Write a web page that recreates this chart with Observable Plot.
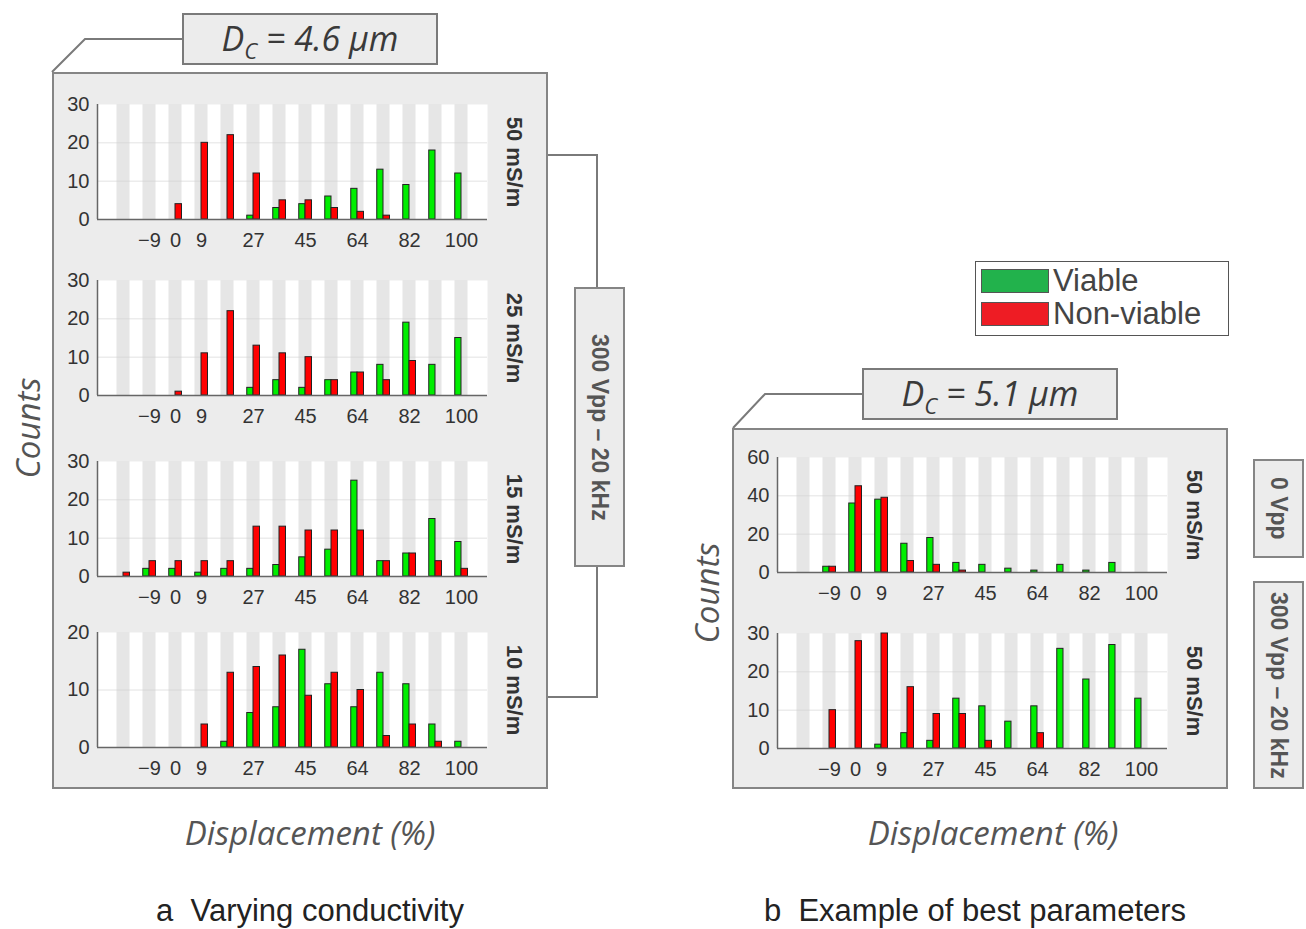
<!DOCTYPE html>
<html>
<head>
<meta charset="utf-8">
<script src="https://cdn.jsdelivr.net/npm/d3@7"></script>
<script src="https://cdn.jsdelivr.net/npm/@observablehq/plot@0.6"></script>
<style>
  body { margin: 0; background: #fff; }
  #root { position: relative; width: 1306px; height: 929px; overflow: hidden; font-family: "Liberation Sans", Arial, sans-serif; }
  .abs { position: absolute; box-sizing: border-box; }
  .panel { background: #ececec; border: 2px solid #858585; }
  .title { background: #ececec; border: 2px solid #7a7a7a; font-family: "Open Sans", sans-serif; font-style: italic; font-size: 34px; color: #3a3a3a; text-align: center; line-height: 46px; }
  .title sub { font-size: 22px; vertical-align: -8px; line-height: 0; }
  .side { background: #ececec; border: 2px solid #858585; writing-mode: vertical-rl; text-align: center; font-weight: bold; font-size: 23px; color: #555; display: flex; align-items: center; justify-content: center; }
  .ylab { font-family: "Open Sans", sans-serif; font-style: italic; font-size: 33px; color: #555; white-space: nowrap; transform: translate(-50%, -50%) rotate(-90deg); }
  .xlab { font-family: "Open Sans", sans-serif; font-style: italic; font-size: 33px; color: #555; white-space: nowrap; transform: translate(-50%, -50%); }
  .cap { font-size: 31px; color: #222; white-space: pre; transform: translate(-50%, -50%); }
  .leg { font-size: 31px; color: #444; line-height: 32px; }
  .plotbox { position: absolute; }
</style>
</head>
<body>
<div id="root"></div>
<script>
// ---- data ----
const bins = [-18, -9, 0, 9, 18, 27, 36, 45, 55, 64, 73, 82, 91, 100];
const tickBins = [-9, 0, 9, 27, 45, 64, 82, 100];
const tickText = ["\u22129", "0", "9", "27", "45", "64", "82", "100"];

const a50Viable    = [0, 0, 0, 0, 0, 1, 3, 4, 6, 8, 13, 9, 18, 12];
const a50NonViable = [0, 0, 4, 20, 22, 12, 5, 5, 3, 2, 1, 0, 0, 0];
const a25Viable    = [0, 0, 0, 0, 0, 2, 4, 2, 4, 6, 8, 19, 8, 15];
const a25NonViable = [0, 0, 1, 11, 22, 13, 11, 10, 4, 6, 4, 9, 0, 0];
const a15Viable    = [0, 2, 2, 1, 2, 2, 3, 5, 7, 25, 4, 6, 15, 9];
const a15NonViable = [1, 4, 4, 4, 4, 13, 13, 12, 12, 12, 4, 6, 4, 2];
const a10Viable    = [0, 0, 0, 0, 1, 6, 7, 17, 11, 7, 13, 11, 4, 1];
const a10NonViable = [0, 0, 0, 4, 13, 14, 16, 9, 13, 10, 2, 4, 1, 0];
const b0Viable     = [0, 3, 36, 38, 15, 18, 5, 4, 2, 1, 4, 1, 5, 0];
const b0NonViable  = [0, 3, 45, 39, 6, 4, 1, 0, 0, 0, 0, 0, 0, 0];
const b300Viable   = [0, 0, 0, 1, 4, 2, 13, 11, 7, 11, 26, 18, 27, 13];
const b300NonViable= [0, 10, 28, 30, 16, 9, 9, 2, 0, 4, 0, 0, 0, 0];

const panelLabels = ["50 mS/m", "25 mS/m", "15 mS/m", "10 mS/m", "50 mS/m", "50 mS/m"];
const yTicksA = [0, 10, 20, 30];
const yTicksA10 = [0, 10, 20];
const yTicksB0 = [0, 20, 40, 60];
const yTicksB300 = [0, 10, 20, 30];

const seriesNames = ["Viable", "Non-viable"];
const seriesColors = ["#00ee00", "#ff0000"];

// ---- layout helpers ----
const root = document.getElementById("root");
function el(cls, style, html) {
  const d = document.createElement("div");
  d.className = "abs " + cls;
  Object.assign(d.style, style);
  if (html != null) d.innerHTML = html;
  root.appendChild(d);
  return d;
}

// connectors (decoration)
const ns = "http://www.w3.org/2000/svg";
const deco = document.createElementNS(ns, "svg");
deco.setAttribute("width", 1306); deco.setAttribute("height", 929);
deco.style.position = "absolute"; deco.style.left = "0"; deco.style.top = "0";
deco.innerHTML = `
  <path d="M182,39 H85 L52,72" fill="none" stroke="#7a7a7a" stroke-width="2"/>
  <path d="M862,394 H765 L733,428" fill="none" stroke="#7a7a7a" stroke-width="2"/>
  <path d="M547,155 H597 V288" fill="none" stroke="#7a7a7a" stroke-width="2"/>
  <path d="M597,566 V697 H547" fill="none" stroke="#7a7a7a" stroke-width="2"/>`;
root.appendChild(deco);

// panel boxes
el("panel", {left: "52px", top: "72px", width: "496px", height: "717px"});
el("panel", {left: "732px", top: "428px", width: "496px", height: "361px"});

// title boxes
el("title", {left: "182px", top: "13px", width: "256px", height: "52px"}, "D<sub>C</sub> = 4.6 µm");
el("title", {left: "862px", top: "368px", width: "256px", height: "52px"}, "D<sub>C</sub> = 5.1 µm");

// side boxes
el("side", {left: "574px", top: "287px", width: "51px", height: "280px"}, "300 Vpp – 20 kHz");
el("side", {left: "1253px", top: "459px", width: "51px", height: "99px"}, "0 Vpp");
el("side", {left: "1253px", top: "581px", width: "51px", height: "208px"}, "300 Vpp – 20 kHz");

// legend
el("", {left: "975px", top: "261px", width: "254px", height: "75px", border: "1.5px solid #555", background: "#fff"});
el("", {left: "981px", top: "269px", width: "68px", height: "24px", background: "#22b24c", border: "1.5px solid #555"});
el("", {left: "981px", top: "302px", width: "68px", height: "24px", background: "#ee1c24", border: "1.5px solid #555"});
el("leg", {left: "1053px", top: "265px"}, seriesNames[0]);
el("leg", {left: "1053px", top: "298px"}, seriesNames[1]);

// axis titles & captions
el("ylab", {left: "27px", top: "428px"}, "Counts");
el("ylab", {left: "706px", top: "593px"}, "Counts");
el("xlab", {left: "310px", top: "832px"}, "Displacement (%)");
el("xlab", {left: "993px", top: "832px"}, "Displacement (%)");
el("cap", {left: "310px", top: "911px"}, "a  Varying conductivity");
el("cap", {left: "975px", top: "911px"}, "b  Example of best parameters");

// ---- plots ----
const idx = bins.map((b, i) => i);
function panel(viable, nonViable, yTicks, label, left, top) {
  const ymax = yTicks[yTicks.length - 1];
  const rows = [];
  idx.forEach(i => {
    if (viable[i] > 0) rows.push({i, v: viable[i], s: seriesNames[0]});
    if (nonViable[i] > 0) rows.push({i, v: nonViable[i], s: seriesNames[1]});
  });
  const tickIdx = tickBins.map(b => bins.indexOf(b));
  const plot = Plot.plot({
    width: 496, height: 163,
    marginLeft: 45, marginRight: 61, marginTop: 12, marginBottom: 36,
    style: {background: "transparent", fontFamily: "'Liberation Sans', Arial, sans-serif", fontSize: "20px", color: "#333", overflow: "visible"},
    x: {domain: [-1, 14], axis: null},
    y: {domain: [0, ymax], axis: null},
    color: {domain: seriesNames, range: seriesColors},
    marks: [
      Plot.frame({fill: "white", stroke: null}),
      Plot.rect(idx, {x1: i => i - 0.25, x2: i => i + 0.25, y1: () => 0, y2: () => ymax, fill: "#e6e6e6"}),
      Plot.gridY(yTicks.slice(1, -1), {stroke: "#d0d0d0", strokeOpacity: 0.6}),
      Plot.rectY(rows, {
        x1: d => d.s === seriesNames[0] ? d.i - 0.24 : d.i,
        x2: d => d.s === seriesNames[0] ? d.i : d.i + 0.25,
        y: "v", fill: "s", stroke: "#222", strokeWidth: 1
      }),
      Plot.ruleY([0], {stroke: "#666", strokeWidth: 1.5}),
      Plot.ruleX([-1], {stroke: "#666", strokeWidth: 1.5}),
      Plot.axisX(tickIdx, {tickSize: 0, tickPadding: 13, tickFormat: i => tickText[tickIdx.indexOf(i)], fontSize: 20, fill: "#333", label: null}),
      Plot.axisY(yTicks, {tickSize: 0, tickPadding: 8, fontSize: 20, fill: "#333", label: null}),
      Plot.text([label], {frameAnchor: "right", textAnchor: "middle", dx: 27, rotate: 90, fontWeight: "bold", fontSize: 22, fill: "#333"})
    ]
  });
  const wrap = document.createElement("div");
  wrap.className = "plotbox";
  wrap.style.left = left + "px";
  wrap.style.top = top + "px";
  wrap.appendChild(plot);
  root.appendChild(wrap);
}

panel(a50Viable, a50NonViable, yTicksA, panelLabels[0], 52, 92);
panel(a25Viable, a25NonViable, yTicksA, panelLabels[1], 52, 268);
panel(a15Viable, a15NonViable, yTicksA, panelLabels[2], 52, 449);
panel(a10Viable, a10NonViable, yTicksA10, panelLabels[3], 52, 620);
panel(b0Viable, b0NonViable, yTicksB0, panelLabels[4], 732, 445);
panel(b300Viable, b300NonViable, yTicksB300, panelLabels[5], 732, 621);
</script>
</body>
</html>
